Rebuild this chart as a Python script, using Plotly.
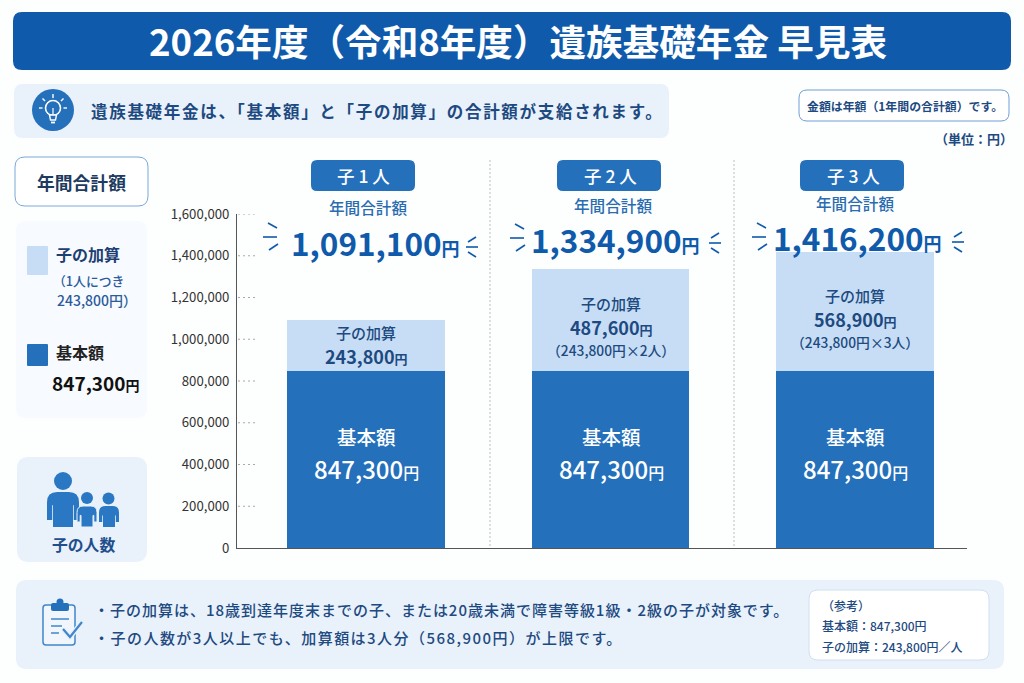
import plotly.graph_objects as go

# Chart data (yen per year)
categories = ["子1人", "子2人", "子3人"]
base_amount = [847300, 847300, 847300]
child_addition = [243800, 487600, 568900]
annual_total = [1091100, 1334900, 1416200]
y_ticks = [0, 200000, 400000, 600000, 800000, 1000000, 1200000, 1400000, 1600000]
per_child = 243800

W, H = 1024, 683
FONT = "Noto Sans CJK JP"
NAVY = "#1d4a80"
BLUE = "#2470bb"
DEEP = "#0f5aaa"
LIGHT = "#c6ddf5"
PANEL = "#e9f1fb"


def fx(px):
    return px / W


def fy(py):
    return 1 - py / H


def rrect(x0, y0, x1, y1, r, fill, line=None, lw=1, layer="below"):
    """Rounded rectangle given in page pixels."""
    a, b, c, d = fx(x0), fy(y0), fx(x1), fy(y1)
    rx, ry = r / W, r / H
    path = (
        f"M{a + rx},{b} L{c - rx},{b} Q{c},{b} {c},{b - ry} L{c},{d + ry} Q{c},{d} {c - rx},{d} "
        f"L{a + rx},{d} Q{a},{d} {a},{d + ry} L{a},{b - ry} Q{a},{b} {a + rx},{b} Z"
    )
    return dict(type="path", xref="paper", yref="paper", path=path, fillcolor=fill,
                line=dict(color=line or fill, width=lw if line else 0), layer=layer)


def seg(x0, y0, x1, y1, color, width=1.5, dash="solid"):
    return dict(type="line", xref="paper", yref="paper", x0=fx(x0), y0=fy(y0), x1=fx(x1), y1=fy(y1),
                line=dict(color=color, width=width, dash=dash), layer="above")


def disc(cx, cy, r, fill, line=None, lw=1):
    return dict(type="circle", xref="paper", yref="paper", x0=fx(cx - r), x1=fx(cx + r),
                y0=fy(cy + r), y1=fy(cy - r), fillcolor=fill,
                line=dict(color=line or fill, width=lw if line else 0), layer="above")


def poly(points, fill, line=None, lw=1, close=True):
    d = "M" + " L".join(f"{fx(x)},{fy(y)}" for x, y in points) + (" Z" if close else "")
    return dict(type="path", xref="paper", yref="paper", path=d, fillcolor=fill,
                line=dict(color=line or fill, width=lw), layer="above")


def person(x0, x1, top, arm_end, bottom, arm, fill, outline=None):
    """Silhouette body: rounded shoulders, two arms and a torso, all in page pixels."""
    r = (x1 - x0) * 0.32
    t0, t1 = x0 + arm, x1 - arm
    p = lambda x, y: f"{fx(x)},{fy(y)}"
    d = (
        f"M{p(x0, arm_end)} L{p(x0, top + r)} Q{p(x0, top)} {p(x0 + r, top)} L{p(x1 - r, top)} "
        f"Q{p(x1, top)} {p(x1, top + r)} L{p(x1, arm_end)} L{p(t1 + 0.8, arm_end)} L{p(t1 + 0.8, top + r + 3)} "
        f"L{p(t1, top + r + 3)} L{p(t1, bottom)} L{p(t0, bottom)} L{p(t0, top + r + 3)} "
        f"L{p(t0 - 0.8, top + r + 3)} L{p(t0 - 0.8, arm_end)} Z"
    )
    return dict(type="path", xref="paper", yref="paper", path=d, fillcolor=fill,
                line=dict(color=outline or fill, width=1 if outline else 0), layer="above")


def label(px, py, s, size, color, anchor="center", weight=400):
    return dict(x=fx(px), y=fy(py), xref="paper", yref="paper", text=s, showarrow=False,
                xanchor=anchor, yanchor="middle", borderpad=0, borderwidth=0,
                font=dict(family=FONT, size=size, color=color, weight=weight))


def money(v, big, small):
    return f'<span style="font-size:{big}px">{v:,}</span><span style="font-size:{small}px">円</span>'


def spaced(s, em):
    return f'<span style="letter-spacing:{em}em">{s}</span>'


fig = go.Figure()
fig.add_bar(x=categories, y=base_amount, marker=dict(color=BLUE, line=dict(width=0)), width=0.646, name="基本額")
fig.add_bar(x=categories, y=child_addition, marker=dict(color=LIGHT, line=dict(width=0)), width=0.646, name="子の加算")

shapes = [
    rrect(13, 12, 1011, 70, 9, DEEP),
    rrect(14, 84, 669, 138, 9, PANEL),
    rrect(799, 90, 1009, 121, 8, "#ffffff", "#6f9fd6", 1),
    rrect(15, 157, 148, 206, 10, "#ffffff", "#7aa8da", 1),
    rrect(16, 221, 147, 418, 10, "#f7fafe"),
    rrect(27, 246, 48, 275, 1, LIGHT),
    rrect(27, 344, 48, 366, 1, BLUE),
    rrect(17, 457, 147, 562, 12, PANEL),
    rrect(16, 580, 1004, 669, 11, PANEL),
    rrect(809, 590, 989, 660, 9, "#ffffff", "#cfe0f3", 1),
]

# Category badges
for x0, y0 in [(311, 160), (557, 160), (800, 160)]:
    shapes.append(rrect(x0, y0, x0 + 104, y0 + 31, 6, BLUE))

# Column dividers
shapes += [seg(490, 160, 490, 548, "#b9bec4", 1, "2px,2px"), seg(734, 160, 734, 548, "#b9bec4", 1, "2px,2px")]

# Short dashed stubs next to the value axis
for t in y_ticks[1:]:
    shapes.append(dict(type="line", xref="paper", yref="y", x0=fx(238), x1=fx(258), y0=t, y1=t,
                       line=dict(color="#a8a8a8", width=1, dash="2px,3px"), layer="above"))

# Burst strokes beside each total
bursts = [(263, 237, 466, 247), (510, 238, 709, 243), (752, 237, 952, 242)]
for lx, ly, rx, ry in bursts:
    shapes += [
        seg(lx + 5, ly - 14, lx + 14, ly - 9, DEEP, 1.6),
        seg(lx, ly, lx + 14, ly, DEEP, 1.6),
        seg(lx + 6, ly + 13, lx + 15, ly + 7, DEEP, 1.6),
        seg(rx + 2, ry - 5, rx + 10, ry - 10, DEEP, 1.6),
        seg(rx, ry, rx + 12, ry, DEEP, 1.6),
        seg(rx + 2, ry + 5, rx + 10, ry + 10, DEEP, 1.6),
    ]

# Light bulb icon
shapes.append(disc(53, 110, 21, BLUE))
shapes.append(disc(53, 108, 7.5, BLUE, "#ffffff", 1.6))
shapes.append(poly([(49.5, 115), (50.5, 120), (55.5, 120), (56.5, 115)], BLUE, "#ffffff", 1.4))
shapes += [seg(51, 122.5, 55, 122.5, "#ffffff", 1.8), seg(53, 108, 53, 115, "#ffffff", 1.2)]
for a, b, c, d in [(53, 94, 53, 98), (42.5, 98.5, 45, 101), (63.5, 98.5, 61, 101), (39, 108, 42.5, 108), (67, 108, 63.5, 108)]:
    shapes.append(seg(a, b, c, d, "#ffffff", 1.4))

# Family icon
FAM = "#2a78c4"
shapes.append(disc(63, 481, 9, FAM))
shapes.append(person(47, 79, 492, 520, 527, 6, FAM))
shapes.append(disc(87, 498, 6, FAM))
shapes.append(person(77, 97, 506, 522, 527, 4, FAM, PANEL))
shapes.append(disc(108.5, 498.5, 6, FAM))
shapes.append(person(99, 119, 506, 522, 527, 4, FAM))

# Clipboard icon
CL = "#3f86cc"
shapes.append(rrect(43, 605, 75, 645, 3, "rgba(255,255,255,0.35)", CL, 1.5, "above"))
shapes.append(rrect(51, 603, 69, 611, 2, BLUE, layer="above"))
shapes.append(disc(60, 602, 3.5, BLUE))
shapes += [seg(51, 619, 69, 619, CL, 1.5), seg(51, 626, 62, 626, CL, 1.5), seg(51, 633, 59, 633, CL, 1.5)]
shapes.append(poly([(63, 629), (70, 637), (82, 622)], "rgba(0,0,0,0)", PANEL, 5, close=False))
shapes.append(poly([(63, 629), (70, 637), (82, 622)], "rgba(0,0,0,0)", CL, 2.2, close=False))

notes = [
    label(517.5, 40.5, "2026年度（令和8年度）遺族基礎年金 早見表", 36.6, "#ffffff", weight=700),
    label(91, 111, spaced("遺族基礎年金は、「基本額」と「子の加算」の合計額が支給されます。", 0.103), 16.5, NAVY, "left", 700),
    label(905, 105, "金額は年額（1年間の合計額）です。", 11.9, NAVY, weight=700),
    label(1013, 138, "（単位：円）", 13, NAVY, "right", 700),
    label(81, 182, "年間合計額", 17.8, "#1d3a5f", weight=700),
    label(56, 254, "子の加算", 16, "#1d3f72", "left", 700),
    label(53, 280, "（1人につき", 12.8, "#2c5a9a", "left", 500),
    label(57, 300, f"{per_child:,}円）", 14, "#2c5a9a", "left", 500),
    label(56, 352, "基本額", 16, "#222222", "left", 700),
    label(52, 382, money(base_amount[0], 19, 14), 19, "#111111", "left", 700),
    label(83, 544, "子の人数", 15.8, "#1f4e8c", weight=700),
    label(94, 609, spaced("・子の加算は、18歳到達年度末までの子、または20歳未満で障害等級1級・2級の子が対象です。", 0.066), 15, NAVY, "left", 500),
    label(94, 637, spaced(f"・子の人数が3人以上でも、加算額は3人分（{child_addition[2]:,}円）が上限です。", 0.098), 15, NAVY, "left", 500),
    label(822, 605, "（参考）", 12, NAVY, "left", 500),
    label(822, 625, f"基本額：{base_amount[0]:,}円", 12, NAVY, "left", 500),
    label(822, 646, f"子の加算：{per_child:,}円／人", 12, NAVY, "left", 500),
]

# Per-column text rows; vertical offsets differ slightly between columns
badge_x = [363, 610, 853]
head_x = [368, 613, 855]
head_y = [207, 204.5, 202.5]
total_x = [375, 615, 857]
total_y = [241.5, 239, 237]
bar_x = [366, 611, 855]
add_rows = [[332, 356, None], [303, 327, 350], [295, 319, 342]]
for i, cat in enumerate(categories):
    notes.append(label(badge_x[i], 175, cat[0] + " " + cat[1] + " " + cat[2], 17.5, "#ffffff", weight=500))
    notes.append(label(head_x[i], head_y[i], "年間合計額", 15.6, "#2a6cb0", weight=500))
    notes.append(label(total_x[i], total_y[i], money(annual_total[i], 31.5, 18), 31.5, DEEP, weight=700))
    r1, r2, r3 = add_rows[i]
    notes.append(label(bar_x[i], r1, "子の加算", 15, NAVY, weight=500))
    notes.append(label(bar_x[i], r2, money(child_addition[i], 18, 13), 18, NAVY, weight=700))
    if r3:
        notes.append(label(bar_x[i], r3, f"（{per_child:,}円×{i + 1}人）", 13.8, NAVY, weight=500))
    notes.append(label(bar_x[i], 436, "基本額", 19.5, "#ffffff", weight=500))
    notes.append(label(bar_x[i], 468, money(base_amount[i], 24, 16), 24, "#ffffff", weight=500))

fig.update_layout(
    width=W, height=H, autosize=False,
    margin=dict(l=0, r=0, t=0, b=0, pad=0, autoexpand=False),
    paper_bgcolor="#fdfefe", plot_bgcolor="rgba(0,0,0,0)",
    barmode="stack", showlegend=False,
    font=dict(family=FONT, color="#333333"),
    shapes=shapes, annotations=notes,
    xaxis=dict(domain=[237 / W, 967 / W], range=[-0.5276, 2.458], type="category", categoryorder="array",
               categoryarray=categories, showticklabels=False, ticks="", showgrid=False,
               showline=True, linecolor="#555555", linewidth=1, zeroline=False),
    yaxis=dict(domain=[1 - 548 / H, 1 - 214 / H], range=[0, 1600000], tickvals=y_ticks, tickformat=",",
               ticks="outside", ticklen=4, tickcolor="rgba(0,0,0,0)", showgrid=False, zeroline=False,
               showline=True, linecolor="#555555", linewidth=1,
               tickfont=dict(family=FONT, size=13.2, color="#333333")),
)

fig.write_html("out.html")
